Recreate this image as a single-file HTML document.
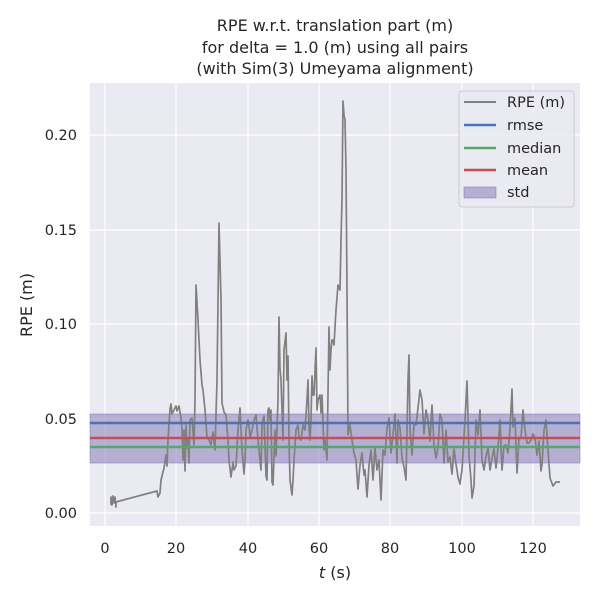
<!DOCTYPE html>
<html><head><meta charset="utf-8"><style>body{margin:0;background:#fff}</style></head><body>
<svg width="600" height="600" xmlns="http://www.w3.org/2000/svg" font-family="DejaVu Sans, Liberation Sans, sans-serif">
<rect x="0" y="0" width="600" height="600" fill="#fff"/>
<rect x="90" y="83" width="490" height="443" fill="#eaeaf2"/>
<g stroke="#fff" stroke-width="1.2">
<line x1="105" y1="83" x2="105" y2="526"/><line x1="176" y1="83" x2="176" y2="526"/><line x1="248" y1="83" x2="248" y2="526"/><line x1="319" y1="83" x2="319" y2="526"/><line x1="390" y1="83" x2="390" y2="526"/><line x1="462" y1="83" x2="462" y2="526"/><line x1="533" y1="83" x2="533" y2="526"/>
<line x1="90" y1="513" x2="580" y2="513"/><line x1="90" y1="419" x2="580" y2="419"/><line x1="90" y1="324" x2="580" y2="324"/><line x1="90" y1="230" x2="580" y2="230"/><line x1="90" y1="135" x2="580" y2="135"/>
</g>
<rect x="90" y="414" width="490" height="49" fill="#8172b3" fill-opacity="0.5" stroke="#8172b3" stroke-opacity="0.5"/>
<polyline fill="none" stroke="#808080" stroke-width="1.7" stroke-linejoin="round" points="111,505 111,497 112,505 113,496 114,503 115,497 116,507 116,502 157,491 158,497 160,493 161,480 164,468 166,455 167,466 168,440 170,409 171,404 172,414 174,410 176,406 177,411 179,406 181,418 182,428 183,460 184,430 185,471 186,425 187,448 188,440 189,463 190,420 192,418 194,445 195,400 196,285 198,320 200,360 202,385 203,390 205,410 207,437 209,440 211,445 213,432 215,450 217,380 219,223 221,300 222,403 224,412 226,415 228,440 229,460 231,477 233,462 234,470 236,466 238,430 240,408 242,450 244,474 245,460 246,430 248,420 249,425 250,438 252,430 254,420 256,415 258,440 259,450 261,470 262,424 264,416 266,476 267,480 268,410 269,408 270,420 271,410 272,482 273,485 275,430 276,456 278,400 279,317 280,368 281,380 283,440 284,350 286,333 287,380 288,356 289,440 290,480 292,495 293,480 294,460 296,430 298,425 299,438 301,440 303,425 305,430 307,400 308,380 309,427 310,440 311,420 312,376 313,395 314,395 316,348 317,410 318,400 320,395 321,413 322,395 324,450 325,440 327,460 329,327 330,370 331,350 332,340 333,340 334,345 336,310 338,285 340,290 341,240 342,200 343,101 344,115 345,120 346,170 347,290 348,435 349,430 350,425 352,440 354,453 356,460 358,489 360,465 362,453 364,475 365,470 367,497 369,465 371,450 373,480 375,448 377,470 379,460 381,500 383,450 385,455 387,428 389,418 391,453 393,435 395,414 397,463 398,420 400,428 402,458 404,467 406,480 408,380 409,355 410,430 412,455 414,424 416,425 418,408 420,390 422,400 424,434 426,410 428,420 430,441 432,405 434,445 436,458 438,448 440,414 442,420 444,463 446,430 448,462 450,457 452,474 454,449 456,464 458,477 460,484 462,470 465,420 467,381 469,455 471,480 472,498 474,486 476,420 478,435 480,410 482,460 484,470 486,456 488,448 490,470 492,458 494,449 496,468 498,448 500,420 502,470 504,446 506,445 508,453 510,428 512,389 513,427 515,418 517,473 519,438 521,438 523,410 525,430 527,443 529,443 531,440 533,434 535,438 537,455 539,441 541,471 542,464 544,430 546,420 548,450 550,478 553,486 556,482 560,482"/>
<line x1="90" y1="423" x2="580" y2="423" stroke="#4c72b0" stroke-width="2.5"/>
<line x1="90" y1="447" x2="580" y2="447" stroke="#55a868" stroke-width="2.5"/>
<line x1="90" y1="438" x2="580" y2="438" stroke="#c44e52" stroke-width="2.5"/>
<g fill="#262626" font-size="14.5" text-anchor="middle">
<text x="105" y="553">0</text><text x="176" y="553">20</text><text x="248" y="553">40</text><text x="319" y="553">60</text><text x="390" y="553">80</text><text x="462" y="553">100</text><text x="533" y="553">120</text>
</g>
<g fill="#262626" font-size="14.5" text-anchor="end">
<text x="77" y="518">0.00</text><text x="77" y="424">0.05</text><text x="77" y="329">0.10</text><text x="77" y="235">0.15</text><text x="77" y="140">0.20</text>
</g>
<text x="335" y="578" fill="#262626" font-size="16" text-anchor="middle"><tspan font-style="italic">t</tspan> (s)</text>
<text x="32" y="305" fill="#262626" font-size="16" text-anchor="middle" transform="rotate(-90 32 305)">RPE (m)</text>
<g fill="#262626" font-size="16" text-anchor="middle">
<text x="335" y="31">RPE w.r.t. translation part (m)</text>
<text x="335" y="53">for delta = 1.0 (m) using all pairs</text>
<text x="335" y="74">(with Sim(3) Umeyama alignment)</text>
</g>
<rect x="459" y="91" width="115" height="116" rx="3" fill="#eaeaf2" fill-opacity="0.8" stroke="#ccc"/>
<line x1="464" y1="102" x2="496" y2="102" stroke="#808080" stroke-width="2"/>
<line x1="464" y1="125" x2="496" y2="125" stroke="#4c72b0" stroke-width="2.5"/>
<line x1="464" y1="148" x2="496" y2="148" stroke="#55a868" stroke-width="2.5"/>
<line x1="464" y1="170" x2="496" y2="170" stroke="#c44e52" stroke-width="2.5"/>
<rect x="464" y="187" width="32" height="11" fill="#8172b3" fill-opacity="0.5" stroke="#8172b3" stroke-opacity="0.5"/>
<g fill="#262626" font-size="14.5">
<text x="507" y="107">RPE (m)</text><text x="507" y="130">rmse</text><text x="507" y="153">median</text><text x="507" y="175">mean</text><text x="507" y="197">std</text>
</g>
</svg>
</body></html>
